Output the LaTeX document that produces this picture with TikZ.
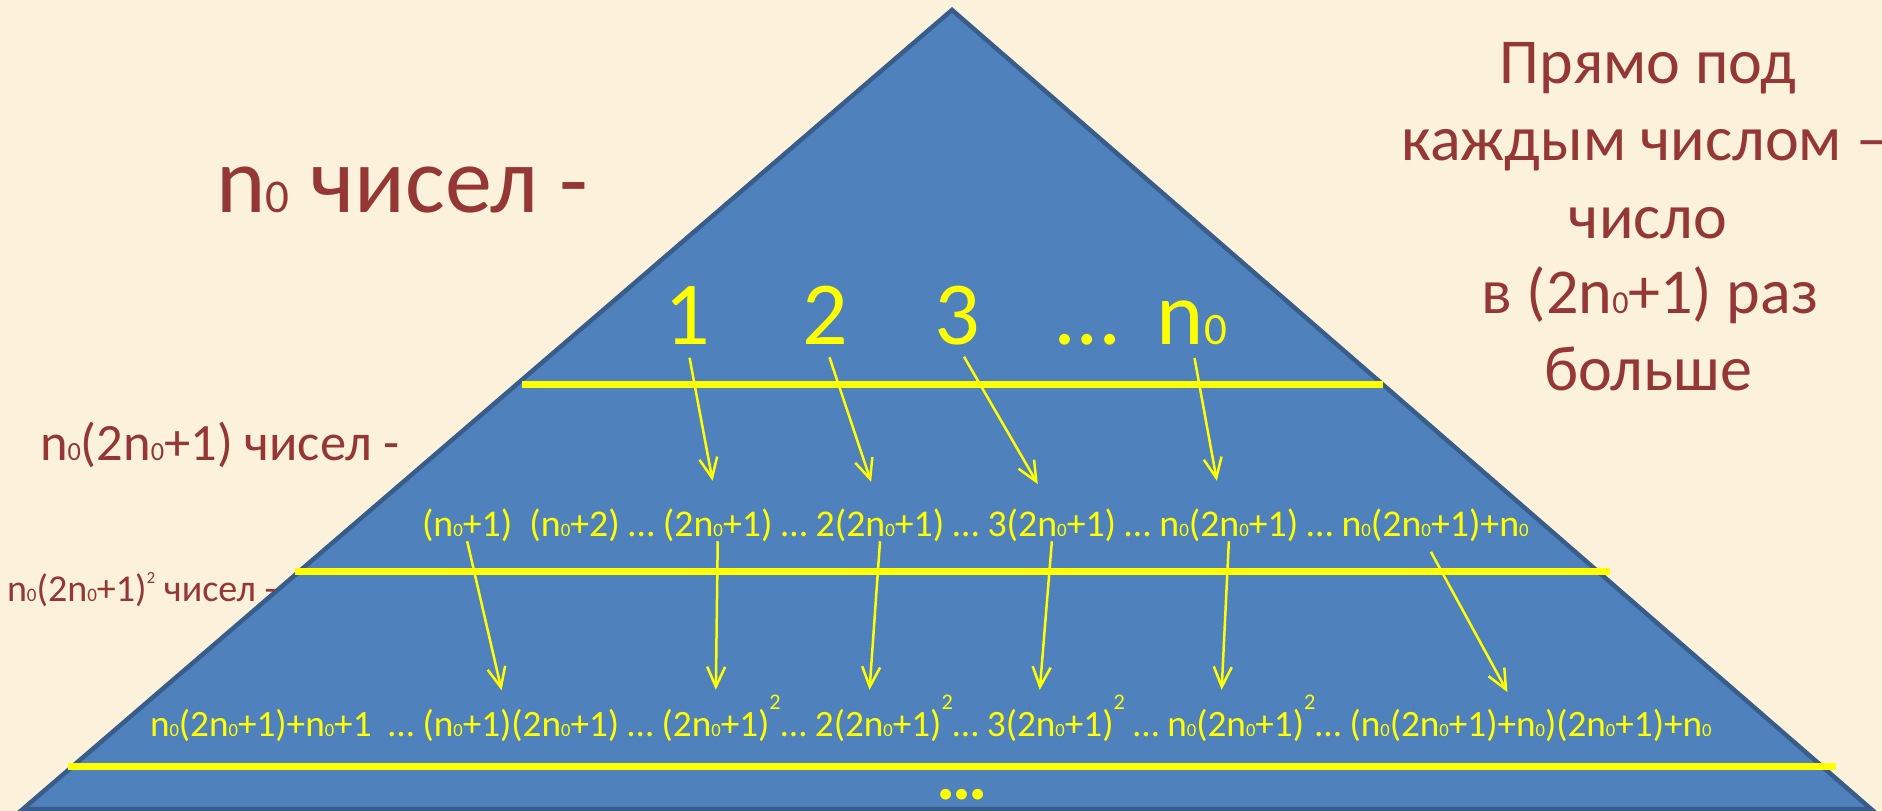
\documentclass[tikz,border=0pt]{standalone}
\usepackage{fontspec}
\setmainfont{Carlito}
\usetikzlibrary{arrows.meta}
\definecolor{bgc}{HTML}{FCF2DB}
\definecolor{trifill}{HTML}{4F81BD}
\definecolor{triedge}{HTML}{385D8A}
\definecolor{lblc}{HTML}{953735}
\definecolor{ylw}{HTML}{FFFF00}
\newcommand\nO{n\scalebox{0.5}{0}}
\newcommand\sqa{\raisebox{0.7em}{\scalebox{0.6}{2}}}
\newcommand\sqb{\raisebox{0.45em}{\scalebox{0.45}{2}}}
\tikzset{
  lbl/.style={text=lblc, inner sep=0pt, outer sep=0pt, anchor=base},
  top/.style={text=ylw, inner sep=0pt, outer sep=0pt, anchor=base, font=\fontsize{90}{100}\selectfont},
  rowtwo/.style={text=ylw, inner sep=0pt, outer sep=0pt, anchor=base west, font=\fontsize{37.8}{44}\selectfont},
  rowthree/.style={text=ylw, inner sep=0pt, outer sep=0pt, anchor=base west, font=\fontsize{37.2}{43}\selectfont},
  sep/.style={draw=ylw, line width=7pt},
  arr/.style={draw=ylw, line width=2.5pt, -{Straight Barb[length=20pt,width=18pt,line width=2.5pt]}},
}
\begin{document}
\begin{tikzpicture}[x=1pt,y=-1pt]
\useasboundingbox (0,0) rectangle (1882,811);
\fill[bgc] (0,0) rectangle (1882,811);
\begin{scope}
\clip (0,0) rectangle (1882,811);
\draw[fill=trifill, draw=triedge, line width=4.5pt, line join=miter] (952,10) -- (1871,809) -- (23,809) -- cycle;
\end{scope}
% separator lines
\coordinate (l1a) at (522,384); \coordinate (l1b) at (1383,384);
\coordinate (l2a) at (295,571); \coordinate (l2b) at (1610,571);
\coordinate (l3a) at (68,766); \coordinate (l3b) at (1836,766);
\draw[sep] (l1a) -- (l1b);
\draw[sep] (l2a) -- (l2b);
\draw[sep] (l3a) -- (l3b);
% left labels
\node[lbl, anchor=base west, font=\fontsize{94}{104}\selectfont] (lab1) at (216,212) {\nO\ чисел -};
\node[lbl, anchor=base west, font=\fontsize{52.5}{60}\selectfont] (lab2) at (40,460) {\nO(2\nO+1) чисел -};
\node[lbl, anchor=base west, font=\fontsize{38}{44}\selectfont] (lab3) at (7,601) {\nO(2\nO+1)\sqb\ чисел -};
% right text
\node[lbl, font=\fontsize{64}{77}\selectfont] (rt1) at (1648,83) {Прямо под};
\node[lbl, font=\fontsize{64}{77}\selectfont] (rt2) at (1645,160) {каждым числом –};
\node[lbl, font=\fontsize{64}{77}\selectfont] (rt3) at (1648,238) {число};
\node[lbl, font=\fontsize{64}{77}\selectfont] (rt4) at (1650,313) {в (2\nO+1) раз};
\node[lbl, font=\fontsize{64}{77}\selectfont] (rt5) at (1648,390) {больше};
% top row
\node[top] (d1) at (687,344) {1};
\node[top] (d2) at (825,344) {2};
\node[top] (d3) at (957,344) {3};
\node[top] (dd) at (1088,344) {…};
\node[top] (dn) at (1192,344) {\nO};
% second row
\node[rowtwo] (t1) at (422,536) {(\nO+1)};
\node[rowtwo] (s1) at (t1.base east) {\ \ (\nO+2)\ …\ \null};
\node[rowtwo] (t2) at (s1.base east) {(2\nO+1)};
\node[rowtwo] (s2) at (t2.base east) {\ …\ \null};
\node[rowtwo] (t3) at (s2.base east) {2(2\nO+1)};
\node[rowtwo] (s3) at (t3.base east) {\ …\ \null};
\node[rowtwo] (t4) at (s3.base east) {3(2\nO+1)};
\node[rowtwo] (s4) at (t4.base east) {\ …\ \null};
\node[rowtwo] (t5) at (s4.base east) {\nO(2\nO+1)};
\node[rowtwo] (s5) at (t5.base east) {\ …\ \null};
\node[rowtwo] (t6) at (s5.base east) {\nO(2\nO+1)+\nO};
% third row
\node[rowthree] (u1) at (150,736) {\nO(2\nO+1)+\nO+1};
\node[rowthree] (v1) at (u1.base east) {\ \ …\ \null};
\node[rowthree] (u2) at (v1.base east) {(\nO+1)(2\nO+1)};
\node[rowthree] (v2) at (u2.base east) {\ …\ \null};
\node[rowthree] (u3) at (v2.base east) {(2\nO+1)};
\node[rowthree] (v3) at (u3.base east) {\sqa…\ \null};
\node[rowthree] (u4) at (v3.base east) {2(2\nO+1)};
\node[rowthree] (v4) at (u4.base east) {\sqa…\ \null};
\node[rowthree] (u5) at (v4.base east) {3(2\nO+1)};
\node[rowthree] (v5) at (u5.base east) {\sqa\ …\ \null};
\node[rowthree] (u6) at (v5.base east) {\nO(2\nO+1)};
\node[rowthree] (v6) at (u6.base east) {\sqa…\ \null};
\node[rowthree] (u7) at (v6.base east) {(\nO(2\nO+1)+\nO)(2\nO+1)+\nO};
% bottom dots
\node[text=ylw, inner sep=0pt, anchor=base, font=\fontsize{72}{80}\selectfont\bfseries] (bd) at (962,799) {…};
% arrows row 1 -> row 2
\draw[arr, shorten <=14pt, shorten >=28pt] (d1.south) -- (t2.north);
\draw[arr, shorten <=14pt, shorten >=28pt] (d2.south) -- (t3.north);
\draw[arr, shorten <=14pt, shorten >=28pt] (d3.south) -- (t4.north);
\draw[arr, shorten <=14pt, shorten >=28pt] (dn.south) -- ([xshift=-7pt]t5.north);
% arrows row 2 -> row 3
\draw[arr, shorten >=19pt] (t1.south) -- ([xshift=-15pt]u2.north);
\draw[arr, shorten >=19pt] (t2.south) -- (u3.north);
\draw[arr, shorten >=19pt] (t3.south) -- ([xshift=-10pt]u4.north);
\draw[arr, shorten >=19pt] (t4.south) -- ([xshift=-12pt]u5.north);
\draw[arr, shorten >=19pt] (t5.south) -- ([xshift=-15pt]u6.north);
\draw[arr, shorten <=12pt, shorten >=19pt] ([xshift=-10pt]t6.south) -- ([xshift=-14pt]u7.north);
\end{tikzpicture}
\end{document}
